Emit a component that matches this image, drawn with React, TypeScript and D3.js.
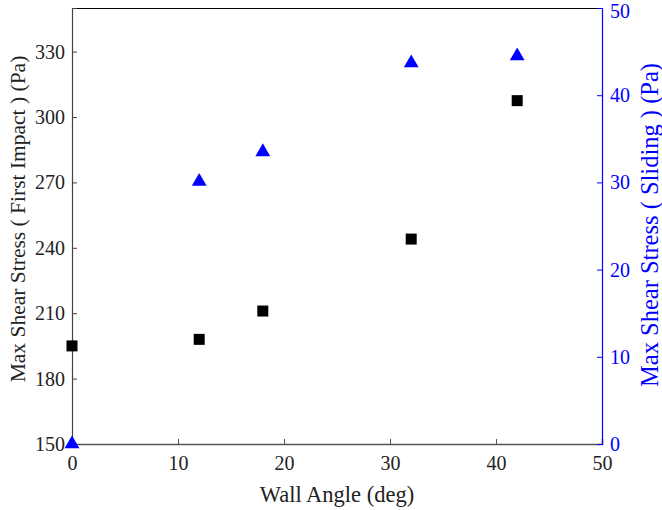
import React, { useEffect, useRef } from 'react';
import * as d3 from 'd3';

// wall angle (deg)
const angles = [0, 12, 18, 32, 42];
// max shear stress, first impact (Pa) - black squares, left axis
const firstImpact = [195, 198, 211, 244, 307.5];
// max shear stress, sliding (Pa) - blue triangles, right axis
const sliding = [0, 30.1, 33.5, 43.7, 44.5];

const leftTicks = [150, 180, 210, 240, 270, 300, 330];
const rightTicks = [0, 10, 20, 30, 40, 50];
const xTicks = [0, 10, 20, 30, 40, 50];

const FONT = '"Liberation Serif", "Times New Roman", serif';

const App = () => {
  const svgRef = useRef<SVGSVGElement>(null);

  useEffect(() => {
    const svg = d3.select(svgRef.current);
    svg.selectAll('*').remove();

    const W = 662;
    const H = 510;
    const m = { top: 8, right: 60, bottom: 66, left: 72 };

    const x = d3.scaleLinear().domain([0, 50]).range([m.left, W - m.right]);
    const yL = d3.scaleLinear().domain([150, 350]).range([H - m.bottom, m.top]);
    const yR = d3.scaleLinear().domain([0, 50]).range([H - m.bottom, m.top]);

    const x0 = m.left;
    const x1 = W - m.right;
    const y0 = H - m.bottom;
    const y1 = m.top;

    // top frame line
    svg.append('line')
      .attr('x1', x0).attr('x2', x1).attr('y1', y1 + 0.5).attr('y2', y1 + 0.5)
      .attr('stroke', '#000').attr('stroke-width', 1);

    // bottom axis
    const gx = svg.append('g').attr('transform', `translate(0,${y0})`);
    gx.call(d3.axisBottom(x).tickValues(xTicks).tickSize(-5).tickPadding(12).tickFormat(d3.format('d')));
    gx.attr('font-family', null);
    gx.select('.domain').attr('stroke', '#555').attr('stroke-width', 1.5);
    gx.selectAll('.tick line').attr('stroke', '#555');
    gx.selectAll('text').style('font-family', FONT).style('font-size', '20px').attr('fill', '#222');

    // left axis
    const gl = svg.append('g').attr('transform', `translate(${x0},0)`);
    gl.call(d3.axisLeft(yL).tickValues(leftTicks).tickSize(-5).tickPadding(7).tickFormat(d3.format('d')));
    gl.attr('font-family', null);
    gl.select('.domain').attr('stroke', '#444').attr('stroke-width', 1.2);
    gl.selectAll('.tick line').attr('stroke', '#444');
    gl.selectAll('text').style('font-family', FONT).style('font-size', '20px').attr('fill', '#222');

    // right axis
    const gr = svg.append('g').attr('transform', `translate(${x1},0)`);
    gr.call(d3.axisRight(yR).tickValues(rightTicks).tickSize(-5).tickPadding(8).tickFormat(d3.format('d')));
    gr.attr('font-family', null);
    gr.select('.domain').attr('stroke', '#0000ff').attr('stroke-width', 1.2);
    gr.selectAll('.tick line').attr('stroke', '#0000ff');
    gr.selectAll('text').style('font-family', FONT).style('font-size', '20px').attr('fill', '#0000ff');
    // keep the top label inside the picture
    gr.selectAll('.tick text').filter(d => d === 50).attr('dy', '0.45em');

    // axis titles
    svg.append('text')
      .attr('x', (x0 + x1) / 2).attr('y', 502)
      .attr('text-anchor', 'middle')
      .style('font-family', FONT).style('font-size', '22.5px').attr('fill', '#222')
      .text('Wall Angle (deg)');

    svg.append('text')
      .attr('transform', `translate(25,219) rotate(-90)`)
      .attr('text-anchor', 'middle')
      .style('font-family', FONT).style('font-size', '21.5px').attr('fill', '#222')
      .text('Max Shear Stress ( First Impact )  (Pa)');

    svg.append('text')
      .attr('transform', `translate(658,225) rotate(-90)`)
      .attr('text-anchor', 'middle')
      .style('font-family', FONT).style('font-size', '24.5px').attr('fill', '#0000ff')
      .text('Max Shear Stress ( Sliding ) (Pa)');

    // squares
    const sq = 11;
    svg.append('g')
      .selectAll('rect')
      .data(angles.map((a, i) => ({ a, v: firstImpact[i] })))
      .enter()
      .append('rect')
      .attr('x', d => x(d.a) - sq / 2)
      .attr('y', d => yL(d.v) - sq / 2)
      .attr('width', sq)
      .attr('height', sq)
      .attr('fill', '#000');

    // triangles
    const tri = d3.symbol().type(d3.symbolTriangle).size(95);
    svg.append('g')
      .selectAll('path')
      .data(angles.map((a, i) => ({ a, v: sliding[i] })))
      .enter()
      .append('path')
      .attr('d', tri)
      .attr('transform', d => `translate(${x(d.a)},${yR(d.v)})`)
      .attr('fill', '#0000ff');
  }, []);

  return (
    <svg ref={svgRef} width={662} height={510} style={{ position: 'absolute', left: 0, top: 0, background: '#fff' }} />
  );
};

export default App;
